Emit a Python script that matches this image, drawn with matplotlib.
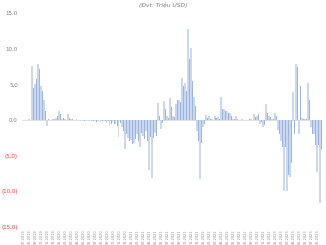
import matplotlib
matplotlib.use("Agg")
import matplotlib.pyplot as plt
import numpy as np

light_vals = [0, 0, 0.1, 7.6, 5.0, 7.8, 4.8, 2.8, -0.9, 0,
              0.1, 0.3, 1.2, 0.2, 0.1, 0.8, 0.1, 0, 0.1, 0,
              0, 0, -0.1, -0.2, 0, -0.1, -0.3, -0.2, -0.4, -0.7,
              -0.3, -0.5, -2.4, -1.0, -4.0, -2.5, -2.8, -3.2, -2.0, -3.8,
              -2.2, -1.5, -7.0, -8.2, -1.8, 2.4, -1.2, 2.7, 0.5, 3.1,
              0.6, 2.2, 2.8, 5.9, 5.2, 12.7, 10.1, 3.2, -1.5, -8.3,
              -1.0, 0.7, 0.5, 0.1, 0.5, 0.4, 3.2, 1.6, 1.2, 1.0,
              0.2, 0.5, 0, 0.1, 0, 0, 0.2, 0.8, 0.6, -0.6,
              -1.0, 2.2, 0.6, 0.2, 1.0, -1.4, -3.0, -9.9, -9.9, -8.0,
              3.9, 7.9, -2.0, 0.3, 0.2, 5.2, -1.0, -2.0, -7.3, -11.7]
dark_vals = [0, 0, 0, 4.5, 5.8, 7.2, 4.0, 1.2, 0.1, 0,
             0.2, 0.6, 0.9, 0.3, 0, 0.3, 0.1, 0, 0, 0,
             -0.1, 0, 0, -0.1, -0.3, 0, -0.2, -0.1, -0.2, -0.5,
             -0.6, -0.8, -0.4, -1.5, -2.0, -3.0, -3.3, -2.7, -3.0, -1.8,
             -2.6, -2.9, -2.4, -2.5, -2.2, 0.5, -0.4, 1.5, 0.3, 1.8,
             0.4, 2.8, 2.5, 4.8, 4.0, 8.5, 5.5, 2.0, -3.0, -3.2,
             -0.5, 0.3, 0.2, 0, 0.3, 0.2, 1.5, 1.2, 1.0, 0.6,
             0.1, 0.2, 0, 0, 0, 0.1, 0, 0.4, 0.8, -0.3,
             -0.7, 1.0, 0.4, 0.1, 0.5, -2.0, -3.8, -3.8, -7.7, -6.0,
             -1.9, 7.4, 4.7, 0.2, 0.1, 2.8, -1.9, -3.5, -3.5, -4.0]

x_labels = ["07.2019", "08.2019", "09.2019", "10.2019", "11.2019", "12.2019",
            "01.2020", "02.2020", "03.2020", "04.2020", "05.2020", "06.2020",
            "07.2020", "08.2020", "09.2020", "10.2020", "11.2020", "12.2020",
            "01.2021", "02.2021", "03.2021", "04.2021", "05.2021", "06.2021",
            "07.2021", "08.2021", "09.2021", "10.2021", "11.2021", "12.2021",
            "01.2022", "02.2022", "03.2022", "04.2022", "05.2022", "06.2022",
            "07.2022", "08.2022", "09.2022", "10.2022", "11.2022", "12.2022",
            "01.2023", "02.2023", "03.2023", "04.2023", "05.2023", "06.2023",
            "07.2023", "08.2023"]

y_ticks = [-15, -10, -5, 0, 5, 10, 15]
y_tick_labels = ["(15,0)", "(10,0)", "(5,0)", "0,0", "5,0", "10,0", "15,0"]
title = "(Đvt: Triệu USD)"

fig = plt.figure(figsize=(3.26, 2.45), dpi=100)
ax = fig.add_axes([22/326, 1 - 227/245, 300/326, 214/245])

n = len(light_vals)
x = np.arange(n)
w = 0.45
ax.bar(x - w/2, light_vals, width=w, color="#c9d7ef", linewidth=0)
ax.bar(x + w/2, dark_vals, width=w, color="#9bb5e2", linewidth=0)
ax.axhline(0, color="#d9d9d9", linewidth=0.6, zorder=0)

ax.set_xlim(-0.5, n - 0.5)
ax.set_ylim(-15, 15)
ax.set_yticks(y_ticks)
ax.set_yticklabels(y_tick_labels)
for lbl, v in zip(ax.get_yticklabels(), y_ticks):
    lbl.set_color("#ff3333" if v < 0 else "#7f7f7f")
    lbl.set_fontsize(4)
ax.tick_params(axis="y", length=0, pad=3)

tick_pos = x[::2][:len(x_labels)]
ax.set_xticks(tick_pos)
ax.set_xticklabels(x_labels, rotation=90, fontsize=2.5, color="#8c8c8c")
ax.tick_params(axis="x", length=0, pad=1.5)

for s in ax.spines.values():
    s.set_visible(False)

fig.text(0.5, 1 - 5/245, title, ha="center", va="center", fontsize=4.3,
         style="italic", color="#7f7f7f")

fig.savefig("out.png", dpi=100)
